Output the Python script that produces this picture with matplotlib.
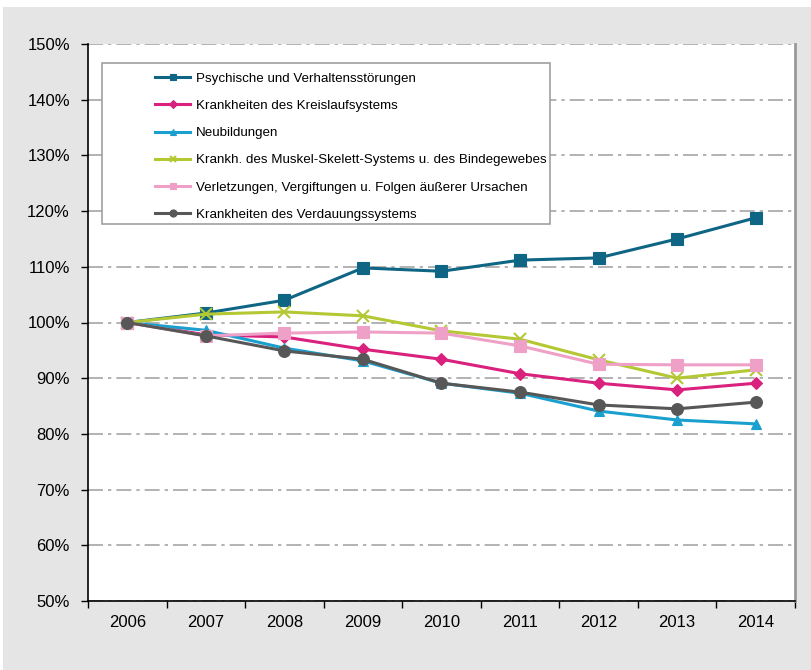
import matplotlib.pyplot as plt
from matplotlib.patches import Rectangle
from matplotlib.ticker import FuncFormatter

plt.rcParams['font.family'] = ['Liberation Sans', 'DejaVu Sans']

# Jahre und Indexwerte (2006 = 100 %)
jahre = ['2006', '2007', '2008', '2009', '2010', '2011', '2012', '2013', '2014']
psychisch = [100, 101.7, 104.0, 109.8, 109.2, 111.2, 111.6, 115.0, 118.8]
kreislauf = [100, 97.8, 97.4, 95.2, 93.4, 90.8, 89.1, 87.9, 89.1]
neubildungen = [100, 98.6, 95.4, 93.1, 89.1, 87.3, 84.1, 82.5, 81.8]
muskel = [100, 101.5, 101.9, 101.2, 98.5, 97.0, 93.3, 90.0, 91.5]
verletzungen = [100, 97.6, 98.1, 98.3, 98.1, 95.8, 92.5, 92.4, 92.4]
verdauung = [100, 97.6, 94.9, 93.4, 89.1, 87.5, 85.2, 84.5, 85.7]

reihen = [
    ('Psychische und Verhaltensstörungen', psychisch, '#0e6584', 's', 8),
    ('Krankheiten des Kreislaufsystems', kreislauf, '#d9217d', 'D', 6.5),
    ('Neubildungen', neubildungen, '#1aa0cf', '^', 7.5),
    ('Krankh. des Muskel-Skelett-Systems u. des Bindegewebes', muskel, '#b4c834', 'x', 8),
    ('Verletzungen, Vergiftungen u. Folgen äußerer Ursachen', verletzungen, '#efa0c6', 's', 8),
    ('Krankheiten des Verdauungssystems', verdauung, '#575757', 'o', 8.5),
]

fig = plt.figure(figsize=(8.12, 6.70), dpi=100, facecolor='white')
# grauer Hintergrund
fig.patches.append(Rectangle((3 / 812, 0), 1, 1 - 7 / 670, transform=fig.transFigure,
                             facecolor='#e5e5e5', edgecolor='none', zorder=-10))

ax = fig.add_axes([88 / 812, 69 / 670, 707 / 812, 557 / 670])
ax.set_facecolor('white')

x = list(range(len(jahre)))
for name, werte, farbe, marker, ms in reihen:
    ax.plot(x, werte, color=farbe, lw=2.2, marker=marker, markersize=ms,
            markeredgewidth=1.5 if marker == 'x' else 0.8, markeredgecolor=farbe,
            label=name, zorder=3)

ax.set_xlim(-0.5, len(jahre) - 0.5)
ax.set_ylim(50, 150)
ax.set_yticks(range(50, 151, 10))
ax.yaxis.set_major_formatter(FuncFormatter(lambda v, p: '%d%%' % v))
ax.set_xticks(x)
ax.set_xticklabels(jahre)
ax.set_xticks([i - 0.5 for i in range(len(jahre) + 1)], minor=True)

ax.tick_params(axis='x', which='major', length=0, pad=10, labelsize=12)
ax.tick_params(axis='x', which='minor', length=5, width=1, color='black')
ax.tick_params(axis='y', length=5, width=1, pad=8, labelsize=12)

ax.yaxis.grid(True, color='#a6a6a6', lw=1.2, linestyle=(0, (9, 3, 2, 3)))
ax.set_axisbelow(True)

ax.spines['top'].set_visible(False)
ax.spines['left'].set_color('black')
ax.spines['bottom'].set_color('black')
ax.spines['left'].set_linewidth(1.2)
ax.spines['bottom'].set_linewidth(1.2)
ax.spines['right'].set_color('#999999')
ax.spines['right'].set_linewidth(2)

# Legendenrahmen
x0, y0 = (102 - 88) / 707, (601 - 224) / 557
w, h = (550 - 102) / 707, (224 - 63) / 557
ax.add_patch(Rectangle((x0, y0), w, h, transform=ax.transAxes, facecolor='white',
                       edgecolor='#a0a0a0', lw=1.2, zorder=4))
leg = ax.legend(loc='upper left', bbox_to_anchor=((150 - 88) / 707, (601 - 67) / 557),
                frameon=False, fontsize=9.6, handlelength=2.6, handletextpad=0.45,
                labelspacing=1.12, markerscale=0.6, borderaxespad=0)
leg.set_zorder(5)

fig.savefig('out.png', dpi=100, facecolor=fig.get_facecolor())
